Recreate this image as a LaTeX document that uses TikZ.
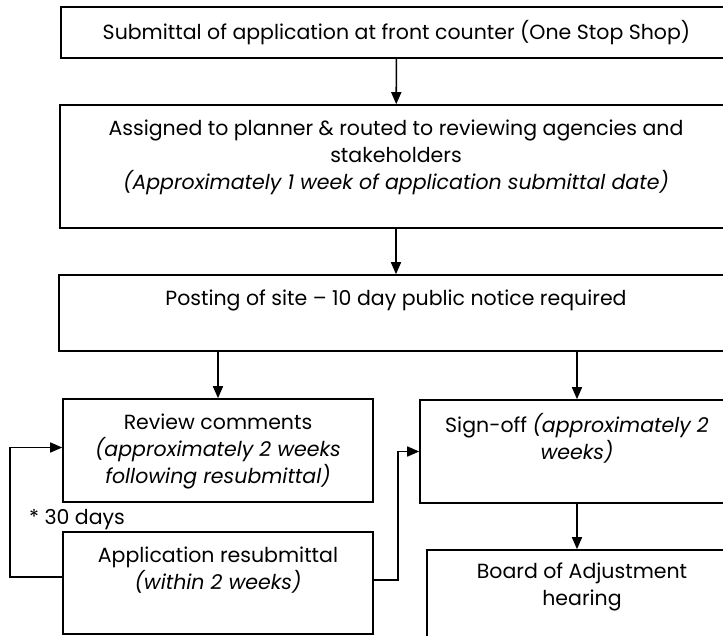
\documentclass[tikz,border=0pt]{standalone}
\usepackage{fontspec}
\setmainfont{Poppins}
\usetikzlibrary{arrows.meta,positioning}
\tikzset{
  box/.style={draw, line width=1.6pt, inner sep=0pt},
  txt/.style={align=center, inner sep=0pt, font=\fontsize{20.5}{27}\selectfont},
  arr/.style={line width=1.6pt, -{Triangle[length=12pt,width=10pt]}}
}

\begin{document}
\begin{tikzpicture}[x=1pt,y=-1pt]
	\useasboundingbox (0,0) rectangle (723,635);
	\node[box, txt, minimum width=671pt, minimum height=51pt] (submit) at (396.5,32.5) {Submittal of application at front counter (One Stop Shop)};
	\node[box, minimum width=672pt, minimum height=123pt] (assign) at (396,166.5) {};
	\node[txt] (assigntxt) at (396,157) {Assigned to planner \& routed to reviewing agencies and\\stakeholders\\\textit{(Approximately 1 week of application submittal date)}};
	\node[box, minimum width=674pt, minimum height=76pt] (post) at (396,313) {};
	\node[txt] (posttxt) at (396,300) {Posting of site -- 10 day public notice required};
	\node[box, minimum width=310pt, minimum height=103pt] (review) at (218,450.5) {};
	\node[txt] (reviewtxt) at (218,451) {Review comments\\\textit{(approximately 2 weeks}\\\textit{following resubmittal)}};
	\node[box, minimum width=314pt, minimum height=103pt] (signoff) at (577,451.5) {};
	\node[txt] (signofftxt) at (577,438) {Sign-off \textit{(approximately 2}\\\textit{weeks)}};
	\node[box, minimum width=310pt, minimum height=102pt] (resubmit) at (218,583) {};
	\node[txt] (resubmittxt) at (218,570) {Application resubmittal\\\textit{(within 2 weeks)}};
	\node[box, minimum width=300pt, minimum height=120pt] (board) at (577,610) {};
	\node[txt] (boardtxt) at (582,587) {Board of Adjustment\\hearing};
	\node[txt] (days) at (77,520) {* 30 days};

	\draw[arr] (submit) -- (assign);
	\draw[arr] (assign) -- (post);
	\draw[arr] (post.south -| review.north) -- (review.north);
	\draw[arr] (post.south -| signoff.north) -- (signoff.north);
	\draw[arr] (signoff) -- (board);
	\draw[arr] ([yshift=6pt]resubmit.west) -- ++(-52,0) |- ([yshift=3pt]review.west);
	\draw[arr] ([yshift=3pt]resubmit.east) -- ++(24,0) |- (signoff.west);
\end{tikzpicture}
\end{document}
